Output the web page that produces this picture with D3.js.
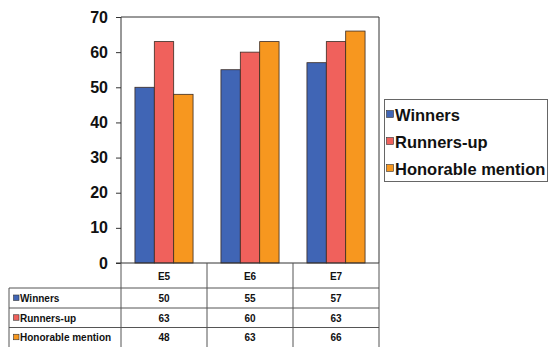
<!DOCTYPE html>
<html>
<head>
<meta charset="utf-8">
<script src="https://cdn.jsdelivr.net/npm/d3@7"></script>
<style>
  body { margin: 0; background: #fff; }
  text { font-family: "Liberation Sans", Arial, sans-serif; font-weight: bold; fill: #111; }
</style>
</head>
<body>
<script>
var categories = ["E5", "E6", "E7"];
var seriesNames = ["Winners", "Runners-up", "Honorable mention"];
var winners = [50, 55, 57];
var runnersUp = [63, 60, 63];
var honorable = [48, 63, 66];
var yTicks = [0, 10, 20, 30, 40, 50, 60, 70];

var seriesValues = [winners, runnersUp, honorable];
var colors = ["#4065b5", "#f0615c", "#f7971f"];

var w = 549, h = 347;
var plotLeft = 121, plotRight = 379, plotTop = 17, plotBottom = 263;
var tableLeft = 9;
var rowLines = [263, 288, 308, 327.5, 347];

var svg = d3.select("body")
            .append("svg")
            .attr("width", w)
            .attr("height", h);

var xScale = d3.scaleBand()
                .domain(categories)
                .range([plotLeft, plotRight]);

var xInner = d3.scaleBand()
                .domain(seriesNames)
                .range([0, xScale.bandwidth()])
                .paddingOuter(0.72);

var yScale = d3.scaleLinear()
                .domain([0, 70])
                .range([plotBottom, plotTop]);

// bars
var groups = svg.append("g")
                .selectAll("g")
                .data(categories)
                .enter()
                .append("g")
                .attr("transform", d => "translate(" + xScale(d) + ",0)");

groups.selectAll("rect")
      .data((c, i) => seriesNames.map((s, j) => ({s: s, j: j, v: seriesValues[j][i]})))
      .enter()
      .append("rect")
      .attr("x", d => xInner(d.s))
      .attr("y", d => yScale(d.v))
      .attr("width", xInner.bandwidth())
      .attr("height", d => plotBottom - yScale(d.v))
      .attr("fill", d => colors[d.j])
      .attr("stroke", "#3a2a22")
      .attr("stroke-width", 0.8);

// frame
svg.append("path")
    .attr("d", "M" + plotLeft + "," + plotBottom + "V" + plotTop + "H" + plotRight + "V" + plotBottom)
    .attr("fill", "none")
    .attr("stroke", "#333")
    .attr("stroke-width", 1);

var yAxis = d3.axisLeft()
              .scale(yScale)
              .tickValues(yTicks)
              .tickSize(5)
              .tickPadding(8);

var yg = svg.append("g")
            .attr("transform", "translate(" + plotLeft + ",0)")
            .call(yAxis);
yg.select(".domain").remove();
yg.selectAll(".tick line").attr("stroke", "#333");
yg.selectAll(".tick text")
  .style("font-size", "16px")
  .style("font-family", "'Liberation Sans', Arial, sans-serif")
  .style("font-weight", "bold")
  .attr("fill", "#111");

// x axis line
svg.append("line")
    .attr("x1", plotLeft - 5).attr("x2", plotRight)
    .attr("y1", plotBottom).attr("y2", plotBottom)
    .attr("stroke", "#333");

// data table
var table = svg.append("g");
var lineColor = "#555";

rowLines.slice(1, rowLines.length - 1).forEach(function(y) {
    table.append("line")
         .attr("x1", tableLeft).attr("x2", plotRight)
         .attr("y1", y).attr("y2", y)
         .attr("stroke", lineColor);
});

var colEdges = [plotLeft].concat(categories.map(c => xScale(c) + xScale.bandwidth()));
colEdges.forEach(function(x) {
    table.append("line")
         .attr("x1", x).attr("x2", x)
         .attr("y1", plotBottom).attr("y2", h)
         .attr("stroke", lineColor);
});
table.append("line")
     .attr("x1", tableLeft).attr("x2", tableLeft)
     .attr("y1", rowLines[1]).attr("y2", h)
     .attr("stroke", lineColor);

table.selectAll("text.cat")
     .data(categories)
     .enter()
     .append("text")
     .attr("class", "cat")
     .attr("x", d => xScale(d) + xScale.bandwidth() / 2)
     .attr("y", (rowLines[0] + rowLines[1]) / 2 + 4)
     .attr("text-anchor", "middle")
     .style("font-size", "10px")
     .text(d => d);

seriesNames.forEach(function(s, j) {
    var y0 = rowLines[j + 1], y1 = rowLines[j + 2];
    var cy = (y0 + y1) / 2;
    table.append("rect")
         .attr("x", 13.5).attr("y", cy - 3)
         .attr("width", 5.5).attr("height", 5.5)
         .attr("fill", colors[j])
         .attr("stroke", "#333")
         .attr("stroke-width", 0.6);
    table.append("text")
         .attr("x", 20)
         .attr("y", cy + 4)
         .style("font-size", "10px")
         .text(s);
    table.selectAll("text.v" + j)
         .data(seriesValues[j])
         .enter()
         .append("text")
         .attr("class", "v" + j)
         .attr("x", (d, i) => xScale(categories[i]) + xScale.bandwidth() / 2)
         .attr("y", cy + 4)
         .attr("text-anchor", "middle")
         .style("font-size", "10px")
         .text(d => d);
});

// legend
var legend = svg.append("g");
legend.append("rect")
      .attr("x", 384.5).attr("y", 99.5)
      .attr("width", 163).attr("height", 82)
      .attr("fill", "#fff")
      .attr("stroke", "#666")
      .attr("stroke-width", 1);

var items = legend.selectAll("g")
                  .data(seriesNames)
                  .enter()
                  .append("g")
                  .attr("transform", (d, i) => "translate(386," + (115 + i * 27) + ")");
items.append("rect")
     .attr("x", 0.5).attr("y", -4.5)
     .attr("width", 7).attr("height", 7)
     .attr("fill", (d, i) => colors[i])
     .attr("stroke", "#333")
     .attr("stroke-width", 0.6);
items.append("text")
     .attr("x", 9)
     .attr("y", 5.5)
     .style("font-size", "16.5px")
     .text(d => d);
</script>
</body>
</html>
